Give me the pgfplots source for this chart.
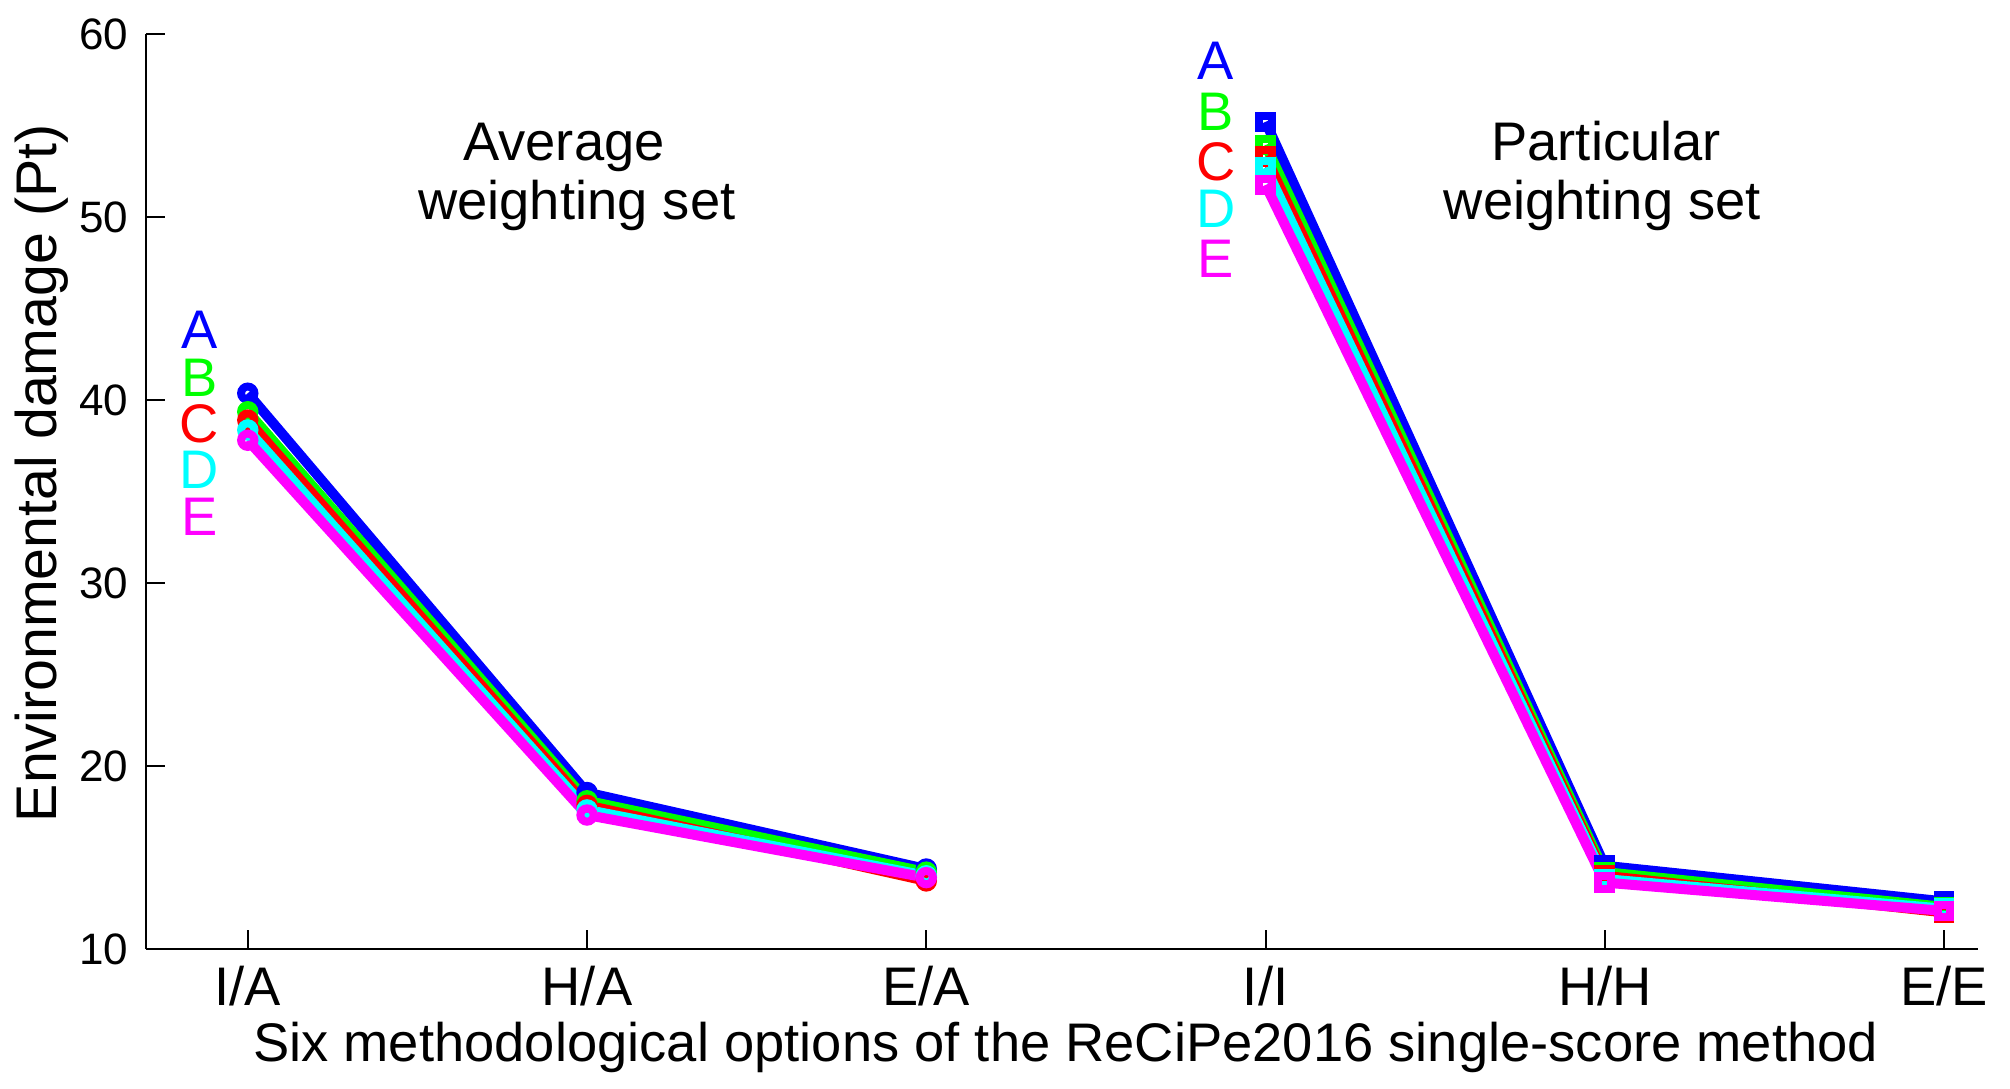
\documentclass[border=0pt]{standalone}
\usepackage{fontspec}
\setmainfont{Liberation Sans}
\usepackage{pgfplots}
\pgfplotsset{compat=1.18}
\definecolor{mblue}{rgb}{0,0,1}
\definecolor{mgreen}{rgb}{0,1,0}
\definecolor{mred}{rgb}{1,0,0}
\definecolor{mcyan}{rgb}{0,1,1}
\definecolor{mmagenta}{rgb}{1,0,1}

\begin{document}
\begin{tikzpicture}[font=\fontsize{16.3}{19.5}\selectfont]
\begin{axis}[
    scale only axis,
    width=549.6pt, height=274.5pt,
    xmin=0.7, xmax=6.1,
    ymin=10, ymax=60,
    xtick={1,2,3,4,5,6},
    xticklabels={I/A,H/A,E/A,I/I,H/H,E/E},
    ytick={10,20,30,40,50,60},
    axis x line=bottom, axis y line=left,
    axis line style={-, line width=0.6pt},
    tick style={line width=0.6pt, black},
    tick align=inside,
    major tick length=5.6pt,
    /pgf/number format/assume math mode=true,
    xticklabel style={anchor=base, yshift=-16.8pt},
    yticklabel style={font=\fontsize{13.2}{15}\selectfont, anchor=east, inner sep=0pt, xshift=-5.1pt},
    xlabel={Six methodological options of the ReCiPe2016 single-score method},
    xlabel style={at={(axis description cs:0.502,-0.1224)}, anchor=base},
    ylabel={Environmental damage (Pt)},
    ylabel style={font=\fontsize{17.2}{20}\selectfont, at={(axis description cs:-0.049,0.52)}, anchor=base},
    clip=false,
    every axis plot/.append style={line width=3pt, mark options={line width=2.4pt}},
]
% average weighting set (circles)
\addplot[color=mblue, mark=o, mark size=2pt] coordinates {(1,40.37) (2,18.55) (3,14.37)};
\addplot[color=mgreen, mark=o, mark size=2pt] coordinates {(1,39.36) (2,18.1) (3,14.2)};
\addplot[color=mred, mark=o, mark size=2pt] coordinates {(1,38.9) (2,17.85) (3,13.72)};
\addplot[color=mcyan, mark=o, mark size=2pt] coordinates {(1,38.36) (2,17.6) (3,14.0)};
\addplot[color=mmagenta, mark=o, mark size=2pt] coordinates {(1,37.8) (2,17.32) (3,13.9)};
% particular weighting set (squares)
\addplot[color=mblue, mark=square, mark size=1.9pt] coordinates {(4,55.2) (5,14.55) (6,12.6)};
\addplot[color=mgreen, mark=square, mark size=1.9pt] coordinates {(4,53.93) (5,14.2) (6,12.3)};
\addplot[color=mred, mark=square, mark size=1.9pt] coordinates {(4,53.3) (5,14.0) (6,12.0)};
\addplot[color=mcyan, mark=square, mark size=1.9pt] coordinates {(4,52.7) (5,13.82) (6,12.2)};
\addplot[color=mmagenta, mark=square, mark size=1.9pt] coordinates {(4,51.75) (5,13.63) (6,12.08)};

\node[anchor=base, text=mblue] at (axis cs:0.857,42.84) {A};
\node[anchor=base, text=mgreen] at (axis cs:0.857,40.2) {B};
\node[anchor=base, text=mred] at (axis cs:0.857,37.7) {C};
\node[anchor=base, text=mcyan] at (axis cs:0.857,35.15) {D};
\node[anchor=base, text=mmagenta] at (axis cs:0.857,32.6) {E};

\node[anchor=base, text=mblue] at (axis cs:3.853,57.49) {A};
\node[anchor=base, text=mgreen] at (axis cs:3.853,54.75) {B};
\node[anchor=base, text=mred] at (axis cs:3.853,52.02) {C};
\node[anchor=base, text=mcyan] at (axis cs:3.853,49.45) {D};
\node[anchor=base, text=mmagenta] at (axis cs:3.853,46.72) {E};

\node[anchor=base] at (axis cs:1.932,53.11) {Average};
\node[anchor=base] at (axis cs:1.970,49.84) {weighting set};
\node[anchor=base] at (axis cs:5.004,53.11) {Particular};
\node[anchor=base] at (axis cs:4.993,49.84) {weighting set};
\end{axis}
\pgfresetboundingbox
\path[use as bounding box] ([xshift=-43.8pt,yshift=-42pt]current axis.south west) rectangle ([xshift=9.6pt,yshift=10.2pt]current axis.north east);
\end{tikzpicture}
\end{document}
